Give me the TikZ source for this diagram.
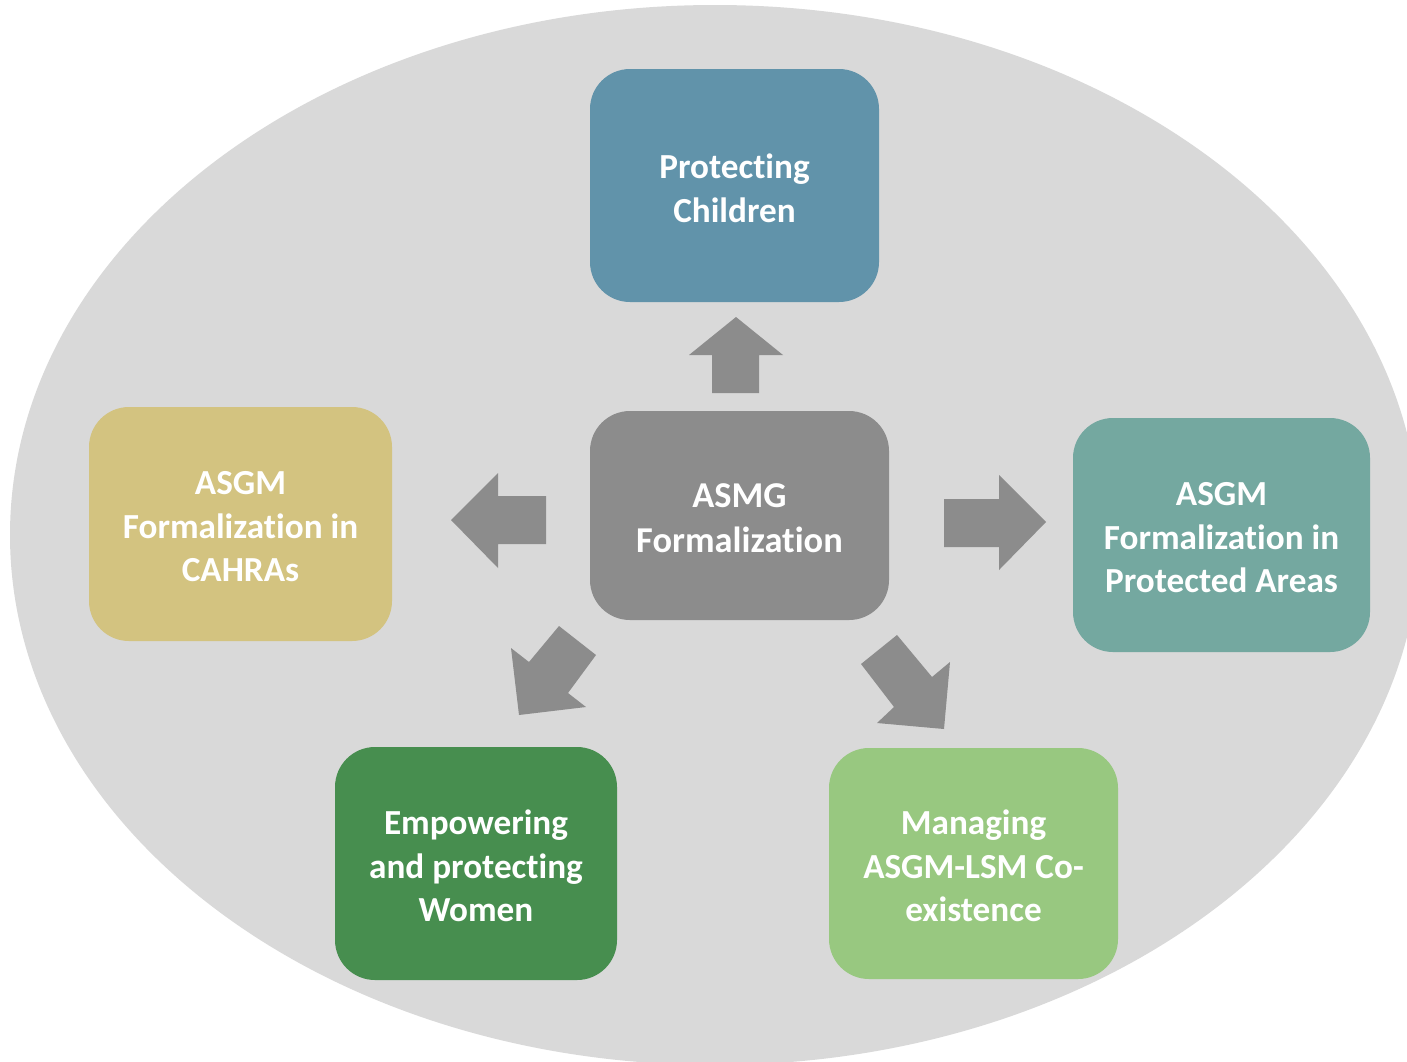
\documentclass[tikz,border=0pt]{standalone}
\usepackage{fontspec}
\setmainfont[Ligatures=NoCommon,RawFeature={-liga;-clig;-dlig;-calt}]{Carlito}
\definecolor{bgell}{HTML}{D9D9D9}
\definecolor{arrowgray}{HTML}{8C8C8C}
\definecolor{cchild}{HTML}{6193AA}
\definecolor{ccenter}{HTML}{8C8C8C}
\definecolor{ccahra}{HTML}{D3C380}
\definecolor{cprot}{HTML}{74A8A0}
\definecolor{cwomen}{HTML}{478E4F}
\definecolor{cmanag}{HTML}{98C880}
\tikzset{
  box/.style={rectangle, rounded corners=20pt, draw=none, inner sep=0pt},
  boxtext/.style={text=white, align=center, inner sep=0pt,
    font=\bfseries\fontsize{17.6}{21.8}\selectfont},
  blockarrow/.style={fill=arrowgray, draw=none},
}
\begin{document}
\begin{tikzpicture}[x=0.5pt, y=-0.5pt]
\useasboundingbox (0,0) rectangle (1407,1061);
\begin{scope}
\clip (0,0) rectangle (1407,1061);
\fill[white] (0,0) rectangle (1407,1061);
\fill[bgell] (715,535) ellipse [x radius=705, y radius=530];
\end{scope}

\node[box, fill=cchild, minimum width=144.5pt, minimum height=116.5pt] (children) at (734.5,185.5) {};
\node[boxtext] (childrentext) at ([yshift=-1.3pt]children.center) {Protecting\\Children};
\node[box, fill=ccenter, minimum width=149.5pt, minimum height=104.5pt] (center) at (739.5,515.5) {};
\node[boxtext, font=\bfseries\fontsize{18.2}{22.5}\selectfont] (centertext) at ([yshift=-1.3pt]center.center) {ASMG\\Formalization};
\node[box, fill=ccahra, minimum width=151.5pt, minimum height=117pt] (cahra) at (240.5,524) {};
\node[boxtext] (cahratext) at ([yshift=-1.3pt]cahra.center) {ASGM\\Formalization in\\CAHRAs};
\node[box, fill=cprot, minimum width=148.5pt, minimum height=117pt] (prot) at (1221.5,535) {};
\node[boxtext] (prottext) at ([yshift=-1.3pt]prot.center) {ASGM\\Formalization in\\Protected Areas};
\node[box, fill=cwomen, minimum width=141pt, minimum height=116.5pt] (women) at (476,863.5) {};
\node[boxtext] (womentext) at ([yshift=-1.3pt]women.center) {Empowering\\and protecting\\Women};
\node[box, fill=cmanag, minimum width=144.5pt, minimum height=115.5pt] (manag) at (973.5,863.5) {};
\node[boxtext] (managtext) at ([yshift=-1.3pt]manag.center) {Managing\\ASGM-LSM Co-\\existence};

% block arrows
\fill[blockarrow] (712,393) -- (712,355) -- (689,355) -- (736,317) -- (783,355) -- (759,355) -- (759,393) -- cycle;
\fill[blockarrow] (546,496) -- (498,496) -- (498,473) -- (451,520) -- (498,568) -- (498,544) -- (546,544) -- cycle;
\fill[blockarrow] (944,499) -- (999,499) -- (999,475) -- (1046,522) -- (999,570) -- (999,547) -- (944,547) -- cycle;
\fill[blockarrow] (559,626) -- (596,655) -- (568,693) -- (586,707) -- (519,715) -- (511,648) -- (529,662) -- cycle;
\fill[blockarrow] (897,635) -- (932,677) -- (950,662) -- (944,729) -- (877,723) -- (894,707) -- (861,664) -- cycle;
\end{tikzpicture}
\end{document}
